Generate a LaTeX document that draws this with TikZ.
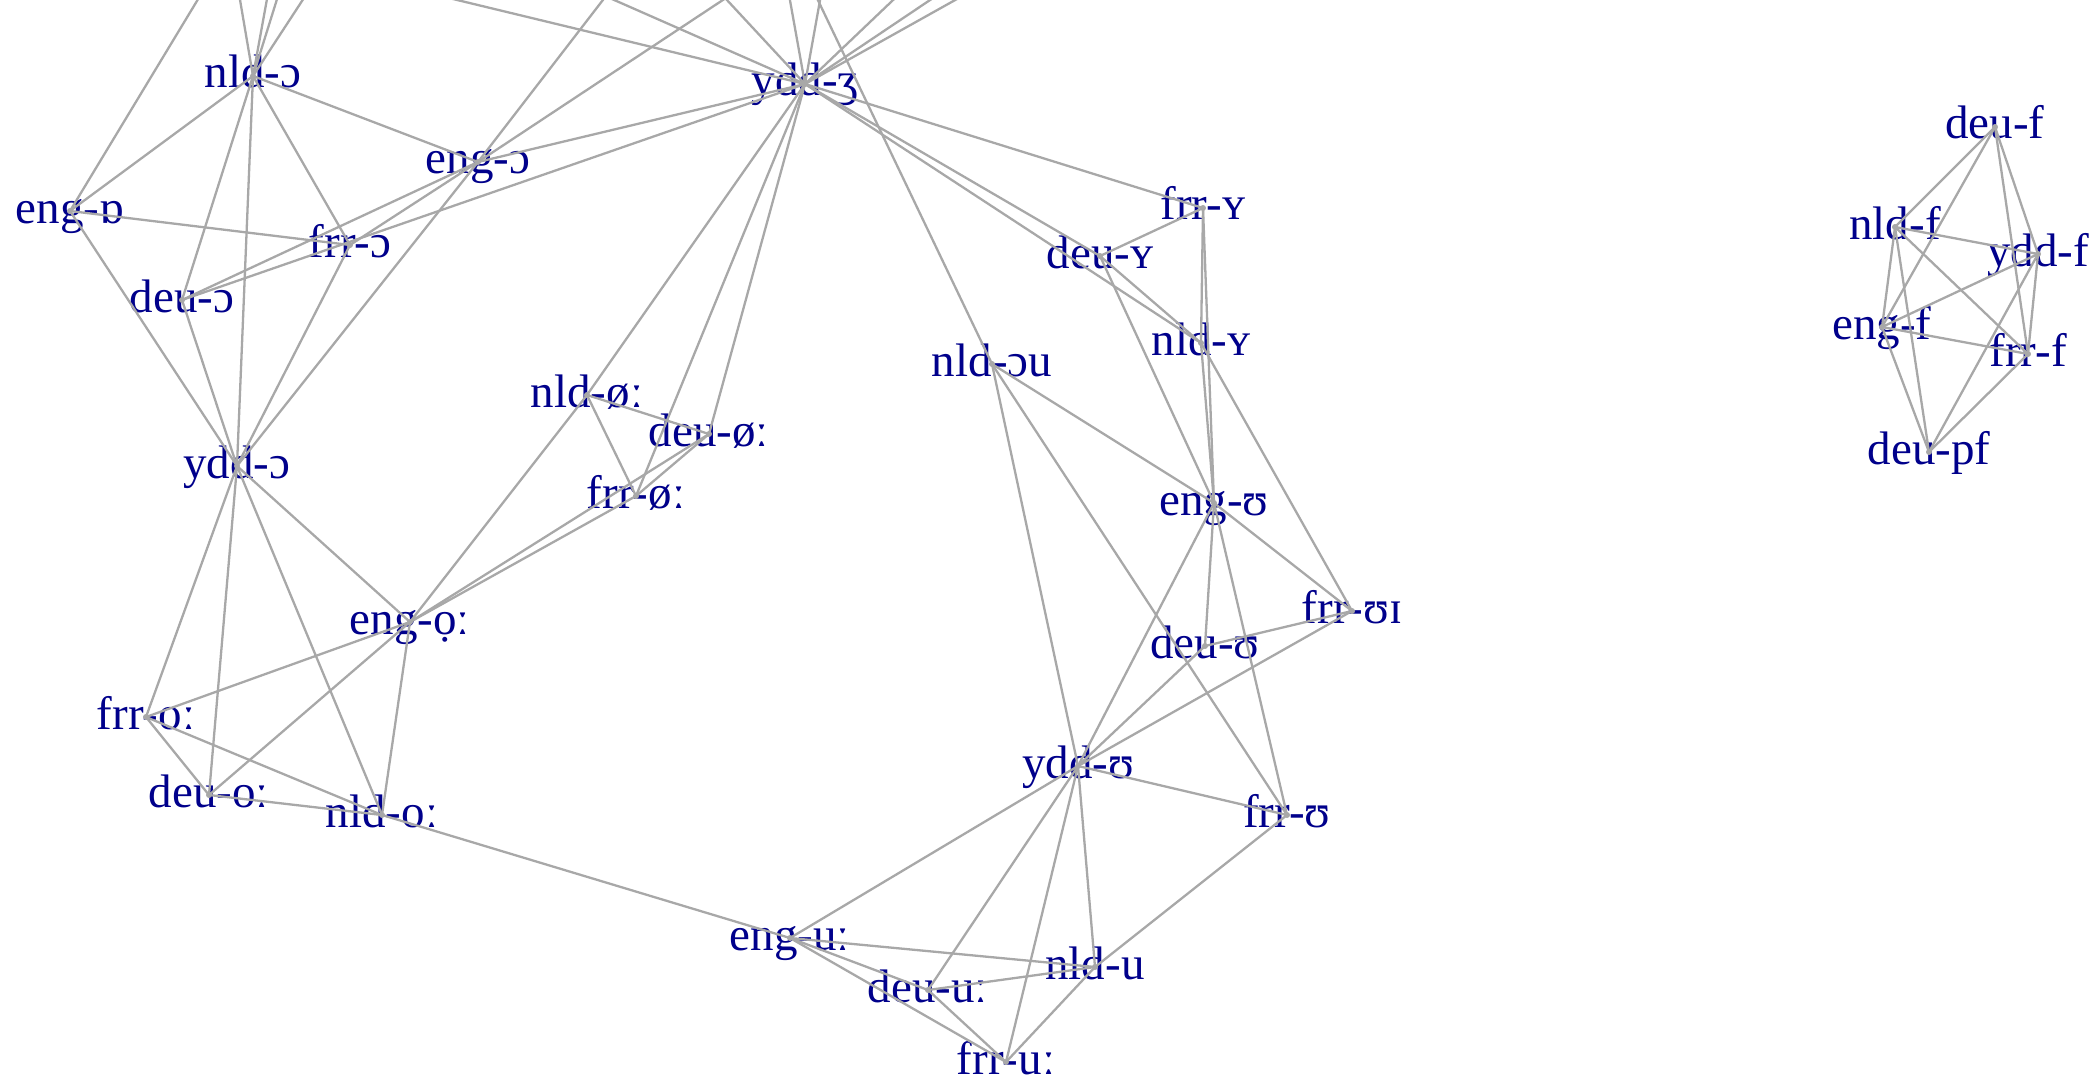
\documentclass[tikz,border=0pt]{standalone}
\usepackage{fontspec}
\setmainfont{Liberation Serif}
\definecolor{labelblue}{RGB}{0,0,139}
\definecolor{edgegray}{RGB}{168,168,168}
\tikzset{
  snd/.style={text=labelblue, font=\fontsize{23.5}{24}\selectfont, inner sep=0pt,
    text height=14pt, text depth=2pt},
  link/.style={draw=edgegray, line width=1.15pt},
}
\begin{document}
\begin{tikzpicture}[x=0.5pt, y=-0.5pt]
    \useasboundingbox (0,0) rectangle (2099,1086);
    \clip (0,0) rectangle (2099,1086);
    % open o
    \node[snd] (nldoo) at (253,76) {nld-ɔ};
    \node[snd] (engaa) at (70,211) {eng-ɒ};
    \node[snd] (engoo) at (478,162) {eng-ɔ};
    \node[snd] (frroo) at (350,245) {frr-ɔ};
    \node[snd] (deuoo) at (182,300) {deu-ɔ};
    \node[snd] (yddoo) at (237,466) {ydd-ɔ};
    \node[snd] (yddzh) at (805,84) {ydd-ʒ};
    % long oe and o
    \node[snd] (nldoe) at (587,395) {nld-øː};
    \node[snd] (deuoe) at (709,434) {deu-øː};
    \node[snd] (frroe) at (636,496) {frr-øː};
    \node[snd] (engol) at (410,622) {eng-ọː};
    \node[snd] (frro) at (146,717) {frr-oː};
    \node[snd] (deuo) at (209,795) {deu-oː};
    \node[snd] (nldo) at (382,815) {nld-oː};
    % y and u
    \node[snd] (frry) at (1203,208) {frr-ʏ};
    \node[snd] (deuy) at (1100,256) {deu-ʏ};
    \node[snd] (nldy) at (1201,343) {nld-ʏ};
    \node[snd] (nldou) at (992,364) {nld-ɔu};
    \node[snd] (engv) at (1214,503) {eng-ʊ};
    \node[snd] (frrvi) at (1352,611) {frr-ʊɪ};
    \node[snd] (deuv) at (1205,646) {deu-ʊ};
    \node[snd] (yddv) at (1078,766) {ydd-ʊ};
    \node[snd] (frrv) at (1287,815) {frr-ʊ};
    \node[snd] (engul) at (790,938) {eng-uː};
    \node[snd] (nldu) at (1095,967) {nld-u};
    \node[snd] (deuul) at (928,990) {deu-uː};
    \node[snd] (frrul) at (1006,1062) {frr-uː};
    % f
    \node[snd] (deuf) at (1995,127) {deu-f};
    \node[snd] (nldf) at (1895,227) {nld-f};
    \node[snd] (yddf) at (2038,254) {ydd-f};
    \node[snd] (engf) at (1882,327) {eng-f};
    \node[snd] (frrf) at (2028,354) {frr-f};
    \node[snd] (deupf) at (1929,452) {deu-pf};
    % ends above the top
    \coordinate (up1) at (258,-100);
    \coordinate (up2) at (223,-100);
    \coordinate (up3) at (285,-100);
    \coordinate (up4) at (308,-100);
    \coordinate (up5) at (368,-100);
    \coordinate (up6) at (680,-100);
    \coordinate (up7) at (874,-100);
    \coordinate (up8) at (43,-100);
    \coordinate (up9) at (387,-100);
    \coordinate (up10) at (634,-100);
    \coordinate (up11) at (772,-100);
    \coordinate (up12) at (838,-100);
    \coordinate (up13) at (998,-100);
    \coordinate (up14) at (1079,-100);
    \coordinate (up15) at (1134,-100);
    \coordinate (up16) at (770,-100);
    % links
    \foreach \a/\b in {engaa/up1, nldoo/up2, nldoo/up3, nldoo/up4, nldoo/up5,
        engoo/up6, engoo/up7, yddzh/up8, yddzh/up9, yddzh/up10, yddzh/up11,
        yddzh/up12, yddzh/up13, yddzh/up14, yddzh/up15, nldou/up16}
        \draw[link] (\a.center) -- (\b);
    \foreach \a/\b in {nldoo/engaa, nldoo/engoo, nldoo/frroo, nldoo/deuoo, nldoo/yddoo,
        engaa/frroo, engaa/yddoo, engoo/frroo, engoo/deuoo, engoo/yddoo, engoo/yddzh,
        deuoo/yddzh, deuoo/yddoo, frroo/yddoo,
        yddoo/frro, yddoo/deuo, yddoo/nldo, yddoo/engol,
        yddzh/nldoe, yddzh/deuoe, yddzh/frroe, nldoe/deuoe, nldoe/frroe, deuoe/frroe,
        nldoe/engol, deuoe/engol, frroe/engol,
        engol/frro, engol/deuo, engol/nldo, frro/deuo, frro/nldo, deuo/nldo, nldo/engul,
        yddzh/frry, yddzh/deuy, yddzh/nldy, frry/deuy, frry/nldy, frry/engv,
        deuy/nldy, deuy/engv, nldy/engv, nldy/frrvi,
        nldou/engv, nldou/yddv, nldou/frrv, engv/frrvi, engv/deuv, engv/yddv, engv/frrv,
        frrvi/deuv, frrvi/yddv, deuv/yddv, yddv/frrv,
        yddv/engul, yddv/deuul, yddv/frrul, yddv/nldu, engul/nldu, engul/deuul,
        engul/frrul, deuul/nldu, deuul/frrul, nldu/frrul, nldu/frrv,
        deuf/nldf, deuf/engf, deuf/frrf, deuf/yddf, nldf/yddf, nldf/frrf, nldf/engf,
        nldf/deupf, yddf/engf, yddf/frrf, yddf/deupf, engf/frrf, engf/deupf, frrf/deupf}
        \draw[link] (\a.center) -- (\b.center);
    % dots
    \foreach \n in {nldoo, engaa, engoo, frroo, deuoo, yddoo, yddzh, nldoe, deuoe, frroe,
        engol, frro, deuo, nldo, frry, deuy, nldy, nldou, engv, frrvi, deuv, yddv, frrv,
        engul, nldu, deuul, frrul, deuf, nldf, yddf, engf, frrf, deupf}
        \fill[edgegray] (\n.center) circle (1.5pt);
\end{tikzpicture}
\end{document}
